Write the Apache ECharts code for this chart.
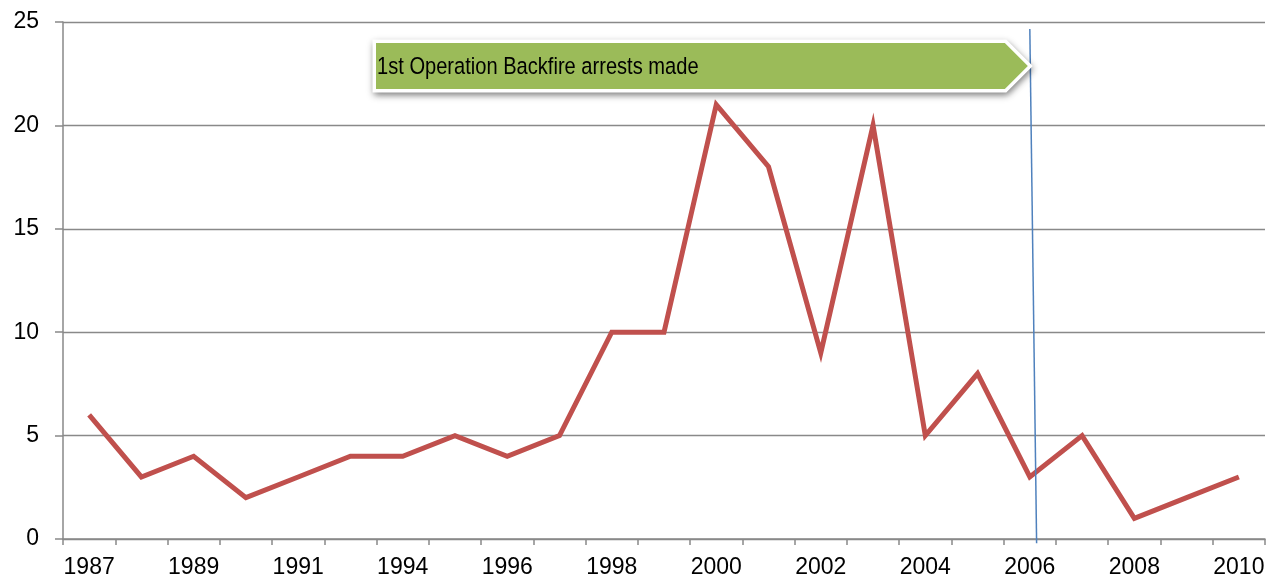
<!DOCTYPE html>
<html><head><meta charset="utf-8">
<script src="https://cdn.jsdelivr.net/npm/echarts@6/dist/echarts.min.js"></script>
<style>html,body{margin:0;padding:0;background:#fff}#c{width:1269px;height:584px}</style>
</head><body><div id="c"></div>
<script>
const years = ['1987','1988','1989','1990','1991','1992','1994','1995','1996','1997','1998','1999','2000','2001','2002','2003','2004','2005','2006','2007','2008','2009','2010'];
const arrests = [6,3,4,2,3,4,4,5,4,5,10,10,21,18,9,20,5,8,3,5,1,2,3];
const yTicks = [0,5,10,15,20,25];
const markerYear = '2006';
const markerLine = [[0, 24.66], [0.13, -0.2]]; // offsets from marker category, y values
const bannerText = '1st Operation Backfire arrests made';

const chart = echarts.init(document.getElementById('c'));
const mIdx = years.indexOf(markerYear);
const FONT = 'Liberation Sans';
chart.setOption({
  animation: false,
  grid: {left: 63, right: 4, top: 22, bottom: 45},
  xAxis: [{
    type: 'category', data: years, boundaryGap: true,
    axisLine: {onZero: false, lineStyle: {color: '#898989', width: 1.5}},
    axisTick: {show: true, interval: 0, length: 6, lineStyle: {color: '#898989', width: 1.5}},
    axisLabel: {interval: 1, color: '#000', fontSize: 23, fontFamily: FONT, margin: 17}
  }, {
    type: 'value', min: -0.5, max: years.length - 0.5, show: false
  }],
  yAxis: {
    type: 'value', min: yTicks[0], max: yTicks[yTicks.length-1], interval: 5,
    axisLine: {show: true, onZero: false, lineStyle: {color: '#898989', width: 1.5}},
    axisTick: {show: true, length: 8, lineStyle: {color: '#898989', width: 1.5}},
    splitLine: {lineStyle: {color: '#898989', width: 1.3}},
    axisLabel: {color: '#000', fontSize: 23, fontFamily: FONT, margin: 24}
  },
  series: [{
    type: 'line', data: arrests, symbol: 'none',
    lineStyle: {color: '#C0504D', width: 5, join: 'miter'}
  }, {
    type: 'line', xAxisIndex: 1, clip: false, symbol: 'none', silent: true,
    data: markerLine.map(p => [mIdx + p[0], p[1]]),
    lineStyle: {color: '#4F81BD', width: 1.5}
  }]
});

// banner annotation anchored at marker position
const tip = chart.convertToPixel({xAxisIndex: 1, yAxisIndex: 0}, [mIdx, 20]);
const x1 = tip[0] - 2, x0 = 376, yT = 43, yB = 89, yM = (yT + yB) / 2, d = 23;
const pts = [[x0, yT], [x1 - d, yT], [x1, yM], [x1 - d, yB], [x0, yB]];
chart.setOption({
  graphic: [{
    type: 'polygon', shape: {points: pts},
    style: {fill: '#fff', stroke: '#fff', lineWidth: 7, lineJoin: 'miter',
      shadowBlur: 7, shadowOffsetY: 3, shadowOffsetX: 1, shadowColor: 'rgba(0,0,0,0.4)'},
    z: 10
  }, {
    type: 'polygon', shape: {points: pts},
    style: {fill: '#9BBB59'},
    z: 11
  }, {
    type: 'text', x: x0 + 1, y: yM + 1, scaleX: 0.82,
    style: {text: bannerText, fill: '#000', fontSize: 24.5, fontFamily: FONT, verticalAlign: 'middle'},
    z: 12
  }]
});
</script></body></html>
